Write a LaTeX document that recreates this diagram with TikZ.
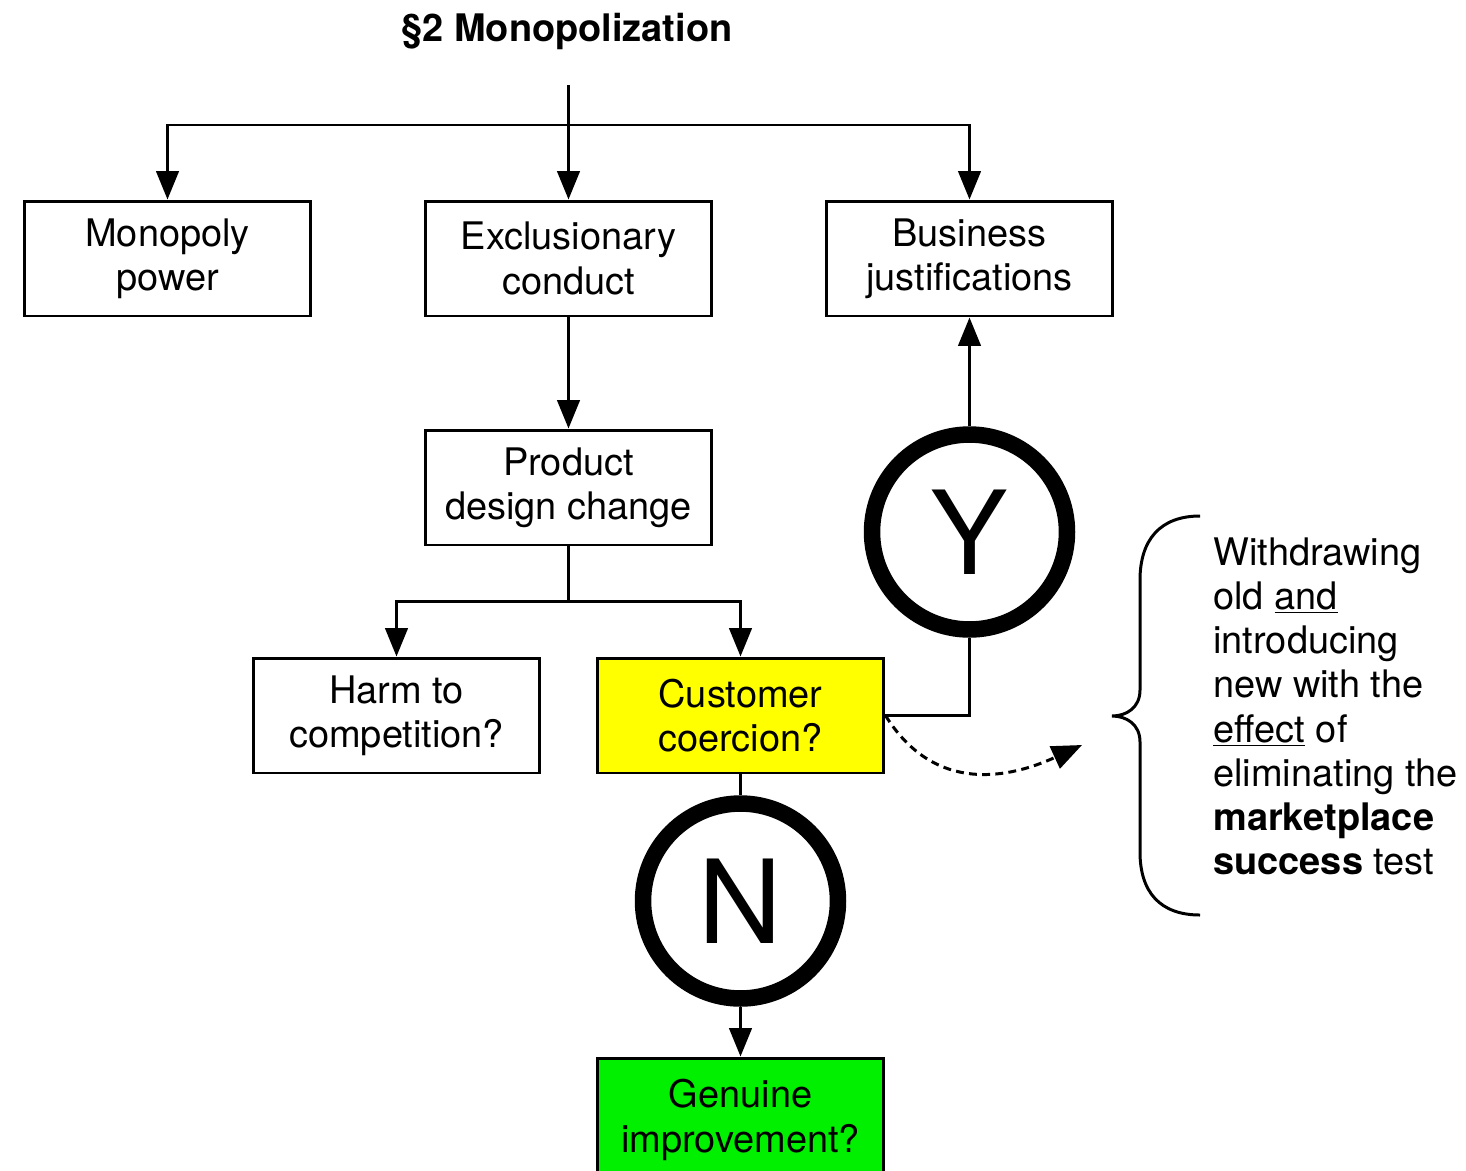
\documentclass[tikz,border=0pt]{standalone}
\usepackage{fontspec}
\setmainfont{TeX Gyre Heros}
\usetikzlibrary{arrows.meta}
\newcommand\lblfont{\fontsize{21.6}{25.2}\selectfont}
\newcommand\bigletter{\fontsize{66}{70}\selectfont}
\definecolor{coerceyellow}{RGB}{255,255,0}
\definecolor{improvegreen}{RGB}{0,240,0}
\begin{document}
\begin{tikzpicture}[x=0.02cm,y=-0.02cm,
  box/.style={draw, line width=1.7pt, minimum width=5.74cm, minimum height=2.3cm,
    align=center, inner sep=0pt, font=\lblfont},
  answer/.style={draw, circle, line width=9.4pt, minimum size=3.9cm, inner sep=0pt,
    font=\bigletter},
  link/.style={line width=1.7pt},
  arr/.style={link, -{Triangle[length=0.57cm,width=0.45cm]}},
  dashlink/.style={line width=1.7pt, dash pattern=on 4.5pt off 3pt,
    -{Triangle[length=0.6cm,width=0.48cm]}}
]
\useasboundingbox (0,0) rectangle (1466,1170);
\clip (0,0) rectangle (1466,1170);

% title
\node[font=\lblfont\bfseries, anchor=base, inner sep=0pt] (title) at (567,41) {§2 Monopolization};

% boxes
\node[box] (mono) at (167.5,258.5) {Monopoly\\power};
\node[box] (excl) at (568.5,258.5) {Exclusionary\\conduct};
\node[box] (bus)  at (969.5,258.5) {Business\\justifications};
\node[box] (prod) at (568.5,487.5) {Product\\design change};
\node[box] (harm) at (396.5,715.5) {Harm to\\competition?};
\node[box, fill=coerceyellow] (cust) at (740.5,715.5) {Customer\\coercion?};
\node[box, fill=improvegreen, minimum height=2.48cm] (gen) at (740.5,1120) {Genuine\\improvement?};

% yes / no circles
\node[answer] (yes) at (969.5,532) {Y};
\node[answer] (no)  at (740.5,901) {N};

% top distribution
\coordinate (start) at (568.5,85);
\coordinate (split) at (568.5,125);
\draw[arr] (start) -- (excl.north);
\draw[arr] (split) -| (mono.north);
\draw[arr] (split) -| (bus.north);

% conduct branch
\draw[arr] (excl.south) -- (prod.north);
\coordinate (fork) at (568.5,601);
\draw[link] (prod.south) -- (fork);
\draw[arr] (fork) -| (harm.north);
\draw[arr] (fork) -| (cust.north);

% coercion outcomes
\draw[link] (cust.east) -| (yes.south);
\draw[arr] (yes.north) -- (bus.south);
\draw[link] (cust.south) -- (no.north);
\draw[arr] (no.south) -- (gen.north);

% dashed pointer to the explanation
\coordinate (note) at (1082,745);
\draw[dashlink] (cust.east) .. controls (935,795) and (1010,778) .. (note);

% brace
\draw[line width=1.7pt] (1200,516) .. controls (1160,516) and (1140,540) .. (1140,580)
  -- (1140,690) .. controls (1140,708) and (1126,716) .. (1112,716)
  .. controls (1126,716) and (1140,724) .. (1140,742)
  -- (1140,852) .. controls (1140,892) and (1160,915) .. (1200,915);

% explanation text
\node[anchor=north west, inner sep=0pt, align=left, font=\lblfont] (expl) at (1213,537)
  {Withdrawing\\old \underline{and}\\introducing\\new with the\\\underline{effect} of\\eliminating the\\
   \textbf{marketplace}\\\textbf{success} test};
\end{tikzpicture}
\end{document}
